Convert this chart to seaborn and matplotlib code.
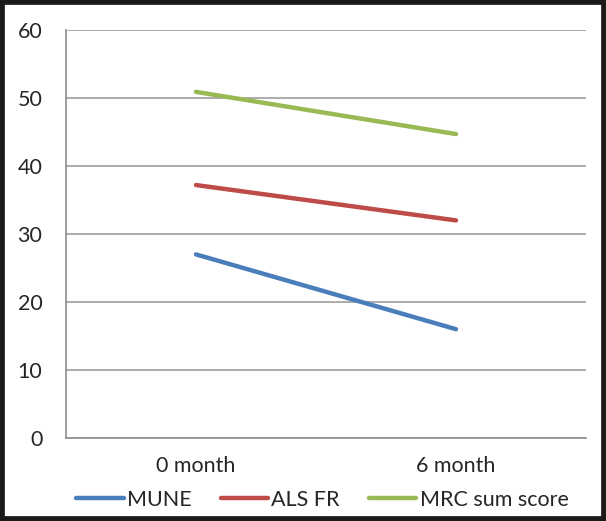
import matplotlib
matplotlib.use("Agg")
import matplotlib.pyplot as plt
import seaborn as sns
import pandas as pd
from matplotlib.patches import Rectangle

categories = ["0 month", "6 month"]
series_names = ["MUNE", "ALS FR", "MRC sum score"]
mune = [27.0, 16.0]
als_fr = [37.2, 32.0]
mrc = [50.9, 44.7]
y_ticks = [0, 10, 20, 30, 40, 50, 60]
colors = ["#4a7ebb", "#be4b48", "#98b954"]

rows = []
for name, vals in zip(series_names, [mune, als_fr, mrc]):
    for c, v in zip(categories, vals):
        rows.append({"time": c, "value": v, "series": name})
df = pd.DataFrame(rows)

sns.set_theme(style="white")
plt.rcParams["font.family"] = ["Lato", "DejaVu Sans"]

fig = plt.figure(figsize=(6.06, 5.21), dpi=100)
ax = fig.add_axes([66/606, 1-438/521, 520/606, 408/521])

sns.lineplot(data=df, x="time", y="value", hue="series", palette=colors,
             linewidth=3.2, ax=ax, legend=False, sort=False)

fs = 15.5
ax.set_xlim(-0.5, 1.5)
ax.set_ylim(0, 60)
ax.set_yticks(y_ticks)
ax.set_yticklabels([str(t) for t in y_ticks], fontsize=fs)
ax.set_xticks([0, 1])
ax.set_xticklabels(categories, fontsize=fs)
ax.set_xticks([-0.5, 0.5, 1.5], minor=True)
ax.tick_params(axis="x", which="major", length=0, pad=13)
ax.tick_params(axis="x", which="minor", length=6, width=1.2, color="#8c8c8c", direction="out")
ax.tick_params(axis="y", which="major", length=8, width=1.2, color="#8c8c8c", direction="out", pad=9)
ax.set_xlabel("")
ax.set_ylabel("")
ax.yaxis.grid(True, color="#a6a6a6", linewidth=1.3)
ax.set_axisbelow(True)
for s in ["top", "right"]:
    ax.spines[s].set_visible(False)
for s in ["left", "bottom"]:
    ax.spines[s].set_color("#8c8c8c")
    ax.spines[s].set_linewidth(1.2)

handles = [plt.Line2D([0], [0], color=c, lw=3.2) for c in colors]
fig.legend(handles, series_names, loc="center", bbox_to_anchor=(0.532, 1-500/521),
           ncol=3, frameon=False, fontsize=fs, handlelength=2.2, handletextpad=0.15,
           columnspacing=1.35)

fig.patches.append(Rectangle((0, 0), 1, 1, transform=fig.transFigure, fill=False,
                             edgecolor="#1a1a1a", linewidth=7, zorder=10))

fig.savefig("out.png", dpi=100)
